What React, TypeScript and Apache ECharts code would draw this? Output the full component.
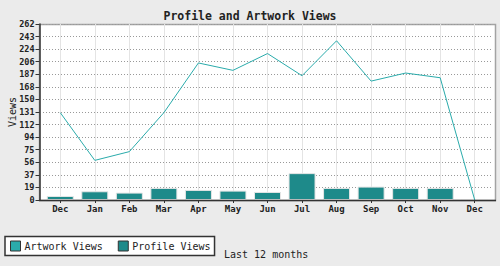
import React, { useEffect, useRef } from "react";
import * as echarts from "echarts";

const months = ["Dec", "Jan", "Feb", "Mar", "Apr", "May", "Jun", "Jul", "Aug", "Sep", "Oct", "Nov", "Dec"];
const artworkViews = [130, 59, 72, 130, 204, 193, 218, 185, 237, 177, 189, 182, 0];
const profileViews = [6, 13, 11, 18, 15, 14, 12, 40, 18, 20, 18, 18, 0];
const yTickLabels = ["0", "19", "37", "56", "75", "94", "112", "131", "150", "168", "187", "206", "224", "243", "262"];
const yMax = 262;

const FONT = "'DejaVu Sans Mono', monospace";

export default function App() {
  const ref = useRef<HTMLDivElement>(null);
  useEffect(() => {
    if (!ref.current) return;
    const chart = echarts.init(ref.current, undefined, { renderer: "svg" });
    const interval = yMax / (yTickLabels.length - 1);
    chart.setOption({
      animation: false,
      backgroundColor: "#ebebeb",
      textStyle: { fontFamily: FONT },
      title: {
        text: "Profile and Artwork Views",
        left: "center",
        top: 5,
        textStyle: { fontFamily: FONT, fontSize: 11.5, fontWeight: "bold", color: "#222" },
      },
      grid: { left: 43, right: 8, top: 24, bottom: 66, containLabel: false, outerBoundsMode: "none" },
      legend: {
        left: 5,
        top: 236.5,
        orient: "horizontal",
        padding: [4, 4, 4, 5],
        itemGap: 15,
        itemWidth: 10,
        itemHeight: 10,
        backgroundColor: "#ffffff",
        borderColor: "#333",
        borderWidth: 1.5,
        borderRadius: 0,
        textStyle: { fontFamily: FONT, fontSize: 10, color: "#222", padding: [0, 0, 0, -1] },
        itemStyle: { borderColor: "#333", borderWidth: 1 },
        data: [
          { name: "Artwork Views", icon: "rect" },
          { name: "Profile Views", icon: "rect" },
        ],
      },
      xAxis: {
        type: "category",
        data: months,
        boundaryGap: true,
        axisLine: { show: false },
        axisTick: { show: true, alignWithLabel: true, length: 3, lineStyle: { color: "#333" } },
        axisLabel: { fontFamily: FONT, fontSize: 9, fontWeight: "bold", color: "#222", margin: 4 },
        splitLine: { show: true, alignWithLabel: true, lineStyle: { color: "#e4e4e4", width: 1, type: "solid" } },
      },
      yAxis: {
        type: "value",
        min: 0,
        max: yMax,
        interval,
        offset: 3.5,
        name: "Views",
        nameLocation: "middle",
        nameRotate: 90,
        nameGap: 22,
        nameMoveOverlap: false,
        nameTextStyle: { fontFamily: FONT, fontSize: 10, color: "#222" },
        axisLine: { show: true, lineStyle: { color: "#333", width: 1.5 } },
        axisTick: { show: true, length: 4, lineStyle: { color: "#333" } },
        axisLabel: {
          fontFamily: FONT,
          fontSize: 8.5,
          fontWeight: "bold",
          color: "#222",
          margin: 5,
          formatter: (v: number) => yTickLabels[Math.round(v / interval)] ?? "",
        },
        splitLine: { show: true, lineStyle: { color: "#999", width: 1, type: [1, 2] } },
      },
      graphic: [
        {
          type: "rect",
          z: -10,
          silent: true,
          shape: { x: 39.5, y: 24.5, width: 456, height: 176 },
          style: { fill: "#ffffff", stroke: "#a3a3a3", lineWidth: 1.5 },
        },
        {
          type: "line",
          z: 10,
          silent: true,
          shape: { x1: 39, y1: 200.5, x2: 496, y2: 200.5 },
          style: { stroke: "#333", lineWidth: 1.5 },
        },
        {
          type: "text",
          left: 224,
          top: 249,
          style: { text: "Last 12 months", font: `10px ${FONT}`, fill: "#222" },
        },
      ],
      series: [
        {
          name: "Artwork Views",
          type: "line",
          data: artworkViews,
          showSymbol: false,
          symbol: "none",
          lineStyle: { color: "#2aabab", width: 1 },
          itemStyle: { color: "#2aabab" },
          z: 3,
        },
        {
          name: "Profile Views",
          type: "bar",
          data: profileViews,
          barWidth: 27,
          itemStyle: { color: "#1e8a8a", borderColor: "#e6e6e6", borderWidth: 1 },
          z: 2,
        },
      ],
    });
    return () => chart.dispose();
  }, []);
  return <div ref={ref} style={{ width: 500, height: 266, position: "absolute", left: 0, top: 0 }} />;
}
